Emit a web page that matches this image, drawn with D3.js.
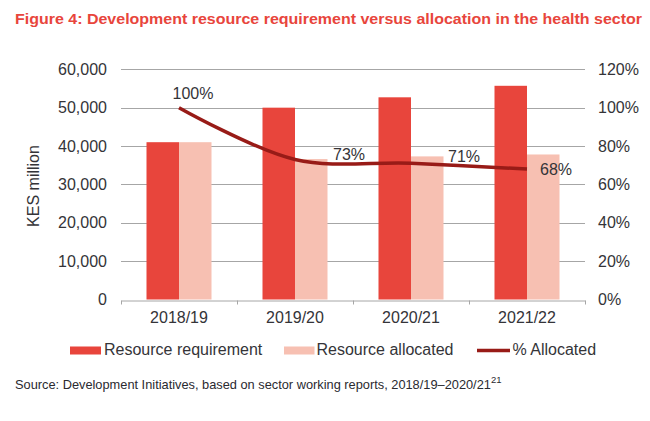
<!DOCTYPE html>
<html><head><meta charset="utf-8">
<script src="https://cdn.jsdelivr.net/npm/d3@7"></script>
<style>body{margin:0;background:#fff}svg{display:block}text{font-family:"Liberation Sans",Arial,sans-serif}</style>
</head><body>
<svg id="c" width="650" height="421"></svg>
<script>
const categories = ["2018/19","2019/20","2020/21","2021/22"];
const requirement = [41000, 50000, 52700, 55700];
const allocated = [41000, 36600, 37300, 37800];
const pctAllocated = [100, 73, 71, 68];
const pctLabels = ["100%","73%","71%","68%"];
const leftTicks = [0,10000,20000,30000,40000,50000,60000];
const rightTicks = [0,20,40,60,80,100,120];
const seriesNames = ["Resource requirement","Resource allocated","% Allocated"];

const colReq = "#e8453c", colAlloc = "#f7c0b2", colLine = "#981b17", textCol = "#343438";
const FF = "'Liberation Sans',Arial,sans-serif";
const svg = d3.select("#c");
const m = {l:121, r:585, t:69.3, b:299.5};

const x = d3.scaleBand().domain(categories).range([m.l, m.r]);
const yL = d3.scaleLinear().domain([0,60000]).range([m.b, m.t]);
const yR = d3.scaleLinear().domain([0,120]).range([m.b, m.t]);

// title
svg.append("text").attr("x",15).attr("y",23.5).attr("fill","#e8453c")
  .attr("font-weight","bold").attr("font-size",15.5).attr("textLength",627).attr("lengthAdjust","spacingAndGlyphs")
  .text("Figure 4: Development resource requirement versus allocation in the health sector");

// gridlines
svg.append("g").selectAll("line").data(leftTicks.filter(d=>d>0)).join("line")
  .attr("x1",m.l).attr("x2",m.r).attr("y1",d=>Math.round(yL(d))+0.5).attr("y2",d=>Math.round(yL(d))+0.5)
  .attr("stroke","#a6a6a6").attr("stroke-width",1);

// left axis labels
const gl = svg.append("g").attr("transform",`translate(${m.l},0)`)
  .call(d3.axisLeft(yL).tickValues(leftTicks).tickSize(0).tickPadding(14).tickFormat(d3.format(",")));
gl.select(".domain").remove();
gl.selectAll("text").attr("font-size",16).attr("fill",textCol).style("font-family",FF);

// right axis labels
const gr = svg.append("g").attr("transform",`translate(${m.r},0)`)
  .call(d3.axisRight(yR).tickValues(rightTicks).tickSize(0).tickPadding(13).tickFormat(d=>d+"%"));
gr.select(".domain").remove();
gr.selectAll("text").attr("font-size",16).attr("fill",textCol).style("font-family",FF);

// y title
svg.append("text").attr("transform","translate(38.5,186) rotate(-90)").attr("text-anchor","middle")
  .attr("font-size",16).attr("fill",textCol).text("KES million");

// bars
const bw = 32.5;
svg.append("g").selectAll("rect").data(categories).join("rect")
  .attr("x",d=>x(d)+x.bandwidth()/2-bw).attr("width",bw)
  .attr("y",(d,i)=>yL(requirement[i])).attr("height",(d,i)=>m.b-yL(requirement[i])).attr("fill",colReq);
svg.append("g").selectAll("rect").data(categories).join("rect")
  .attr("x",d=>x(d)+x.bandwidth()/2).attr("width",bw)
  .attr("y",(d,i)=>yL(allocated[i])).attr("height",(d,i)=>m.b-yL(allocated[i])).attr("fill",colAlloc);

// x axis
const gx = svg.append("g").attr("transform",`translate(0,${Math.round(m.b)+0.5})`)
  .call(d3.axisBottom(x).tickSize(0).tickPadding(11));
gx.select(".domain").attr("stroke","#a6a6a6");
gx.selectAll("text").attr("font-size",16).attr("fill",textCol).style("font-family",FF);
const bounds = categories.map(c=>x(c)).concat([x(categories[categories.length-1])+x.bandwidth()]);
gx.selectAll("line.tk").data(bounds).join("line").attr("class","tk")
  .attr("x1",d=>Math.round(d)+0.5).attr("x2",d=>Math.round(d)+0.5).attr("y1",0).attr("y2",4).attr("stroke","#a6a6a6");

// line
const line = d3.line().x((d,i)=>x(categories[i])+x.bandwidth()/2).y(d=>yR(d)).curve(d3.curveCatmullRom.alpha(0.5));
svg.append("path").datum(pctAllocated).attr("d",line).attr("fill","none").attr("stroke",colLine).attr("stroke-width",3.5);

// data labels
const lblOff = [[14,-8.5],[54,1],[53,-1.5],[29,6]];
svg.append("g").selectAll("text").data(pctLabels).join("text")
  .attr("x",(d,i)=>x(categories[i])+x.bandwidth()/2+lblOff[i][0])
  .attr("y",(d,i)=>yR(pctAllocated[i])+lblOff[i][1])
  .attr("text-anchor","middle").attr("font-size",16).attr("fill",textCol).text(d=>d);

// legend
const lg = svg.append("g");
lg.append("rect").attr("x",70).attr("y",346.5).attr("width",31).attr("height",8).attr("fill",colReq);
lg.append("text").attr("x",104).attr("y",355).attr("font-size",16).attr("fill",textCol).text(seriesNames[0]);
lg.append("rect").attr("x",284).attr("y",346.5).attr("width",30.5).attr("height",8).attr("fill",colAlloc);
lg.append("text").attr("x",316.5).attr("y",355).attr("font-size",16).attr("fill",textCol).text(seriesNames[1]);
lg.append("line").attr("x1",477).attr("x2",510).attr("y1",350.5).attr("y2",350.5).attr("stroke",colLine).attr("stroke-width",3.5);
lg.append("text").attr("x",512.5).attr("y",355).attr("font-size",16).attr("fill",textCol).text(seriesNames[2]);

// source
const src = svg.append("text").attr("x",15).attr("y",388.5).attr("font-size",12.8).attr("fill","#2a2a30");
src.append("tspan").text("Source: Development Initiatives, based on sector working reports, 2018/19\u20132020/21");
src.append("tspan").attr("dy",-6).attr("font-size",9.5).text("21");
</script>
</body></html>
